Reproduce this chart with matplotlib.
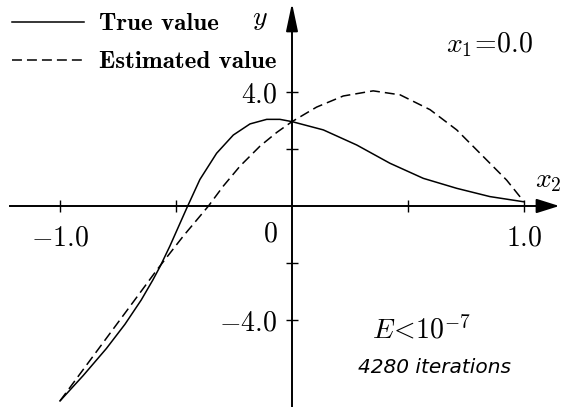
import matplotlib
matplotlib.use('Agg')
import matplotlib.pyplot as plt

plt.rcParams['mathtext.fontset'] = 'cm'

# ---- data ----
true_x = [-1.00, -0.90, -0.80, -0.72, -0.65, -0.60, -0.569, -0.526, -0.454,
          -0.397, -0.325, -0.253, -0.181, -0.109, -0.052, 0.0, 0.135, 0.279,
          0.422, 0.566, 0.71, 0.853, 0.997]
true_y = [-6.84, -5.95, -5.00, -4.15, -3.30, -2.60, -2.13, -1.40, -0.08,
          0.93, 1.85, 2.49, 2.88, 3.04, 3.04, 2.96, 2.67, 2.14,
          1.50, 0.97, 0.62, 0.33, 0.15]

est_x = [-1.00, -0.90, -0.80, -0.72, -0.65, -0.583, -0.468, -0.36, -0.296,
         -0.224, -0.138, -0.066, 0.0, 0.106, 0.221, 0.35, 0.466, 0.595, 0.71,
         0.825, 0.925, 0.997]
est_y = [-6.84, -5.74, -4.64, -3.76, -2.99, -2.25, -1.05, 0.0, 0.70,
         1.40, 2.10, 2.58, 2.96, 3.47, 3.86, 4.04, 3.90, 3.38, 2.67,
         1.73, 0.91, 0.18]

xtick_major = [-1.0, 1.0]
xtick_labels = ['$-1.0$', '$1.0$']
xtick_minor = [-0.5, 0.5]
ytick_major = [-4.0, 4.0]
ytick_labels = ['$-4.0$', '$4.0$']
ytick_minor = [-2.0, 2.0]

series_labels = ['True value', 'Estimated value']

# ---- figure ----
fig = plt.figure(figsize=(5.65, 4.07), dpi=100)
ax = fig.add_axes([0, 0, 1, 1])
ax.set_xlim(-1.2586, 1.1767)
ax.set_ylim(-7.053, 7.228)
ax.patch.set_alpha(0)

ax.plot(true_x, true_y, color='black', lw=1.1, label=series_labels[0],
        solid_joinstyle='round')
ax.plot(est_x, est_y, color='black', lw=1.1, ls=(0, (6.5, 3.3)),
        label=series_labels[1])

for s in ['top', 'right']:
    ax.spines[s].set_visible(False)
ax.spines['left'].set_position(('data', 0))
ax.spines['bottom'].set_position(('data', 0))
ax.spines['bottom'].set_bounds(-1.216, 1.10)
ax.spines['left'].set_bounds(-7.1, 6.5)
ax.spines['left'].set_linewidth(1.4)
ax.spines['bottom'].set_linewidth(1.4)

ax.set_xticks(xtick_major)
ax.set_xticklabels(xtick_labels, fontsize=20)
ax.set_xticks(xtick_minor, minor=True)
ax.set_yticks(ytick_major)
ax.set_yticklabels(ytick_labels, fontsize=20)
ax.set_yticks(ytick_minor, minor=True)
ax.tick_params(which='both', direction='inout', length=8.6, width=1.0)
ax.tick_params(axis='x', which='major', pad=8.6)
ax.tick_params(axis='y', which='major', pad=6.5)

# origin label
ax.annotate('$0$', xy=(0, 0), xytext=(-15.8, -19.5), textcoords='offset points',
            ha='center', va='center', fontsize=20)

# arrow heads
ax.annotate('', xy=(1.152, 0), xytext=(1.06, 0),
            arrowprops=dict(arrowstyle='-|>,head_length=0.7,head_width=0.22',
                            mutation_scale=20, color='black', lw=1.4,
                            shrinkA=0, shrinkB=0))
ax.annotate('', xy=(0, 7.12), xytext=(0, 6.3),
            arrowprops=dict(arrowstyle='-|>,head_length=0.85,head_width=0.18',
                            mutation_scale=20, color='black', lw=1.4,
                            shrinkA=0, shrinkB=0))

# axis names and annotations
ax.text(-0.138, 6.58, '$y$', fontsize=20, ha='center', va='center')
ax.text(1.103, 0.91, '$x_2$', fontsize=20, ha='center', va='center')
ax.text(0.853, 5.65, r'$x_1\!=\!0.0$', fontsize=20, ha='center', va='center')
ax.text(0.56, -4.35, r'$E\!<\!10^{-7}$', fontsize=20, ha='center', va='center')
ax.text(0.616, -5.65, '4280 iterations', fontsize=14.5, family='DejaVu Sans',
        style='italic', ha='center', va='center')

ax.legend(loc='upper left', bbox_to_anchor=(12 / 565, 1 - 13 / 407),
          frameon=False, prop=dict(family='cmb10', size=18),
          handlelength=2.9, handletextpad=0.6, labelspacing=0.62,
          borderaxespad=0, borderpad=0)

fig.savefig('out.png', dpi=100)
